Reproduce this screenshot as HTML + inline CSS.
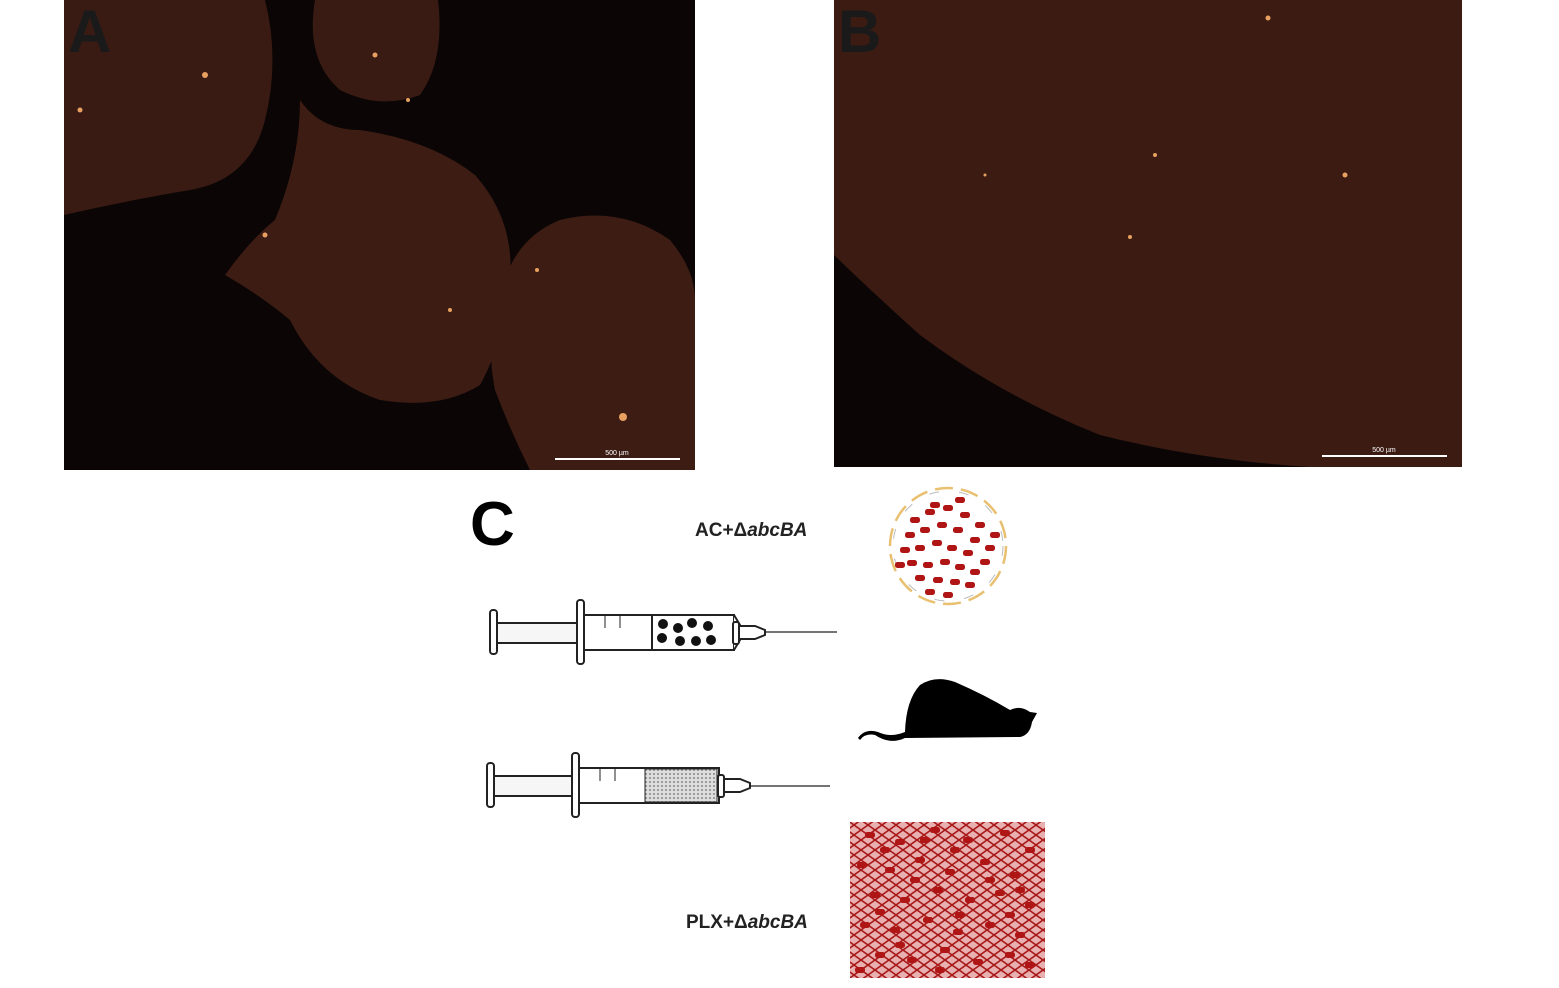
<!DOCTYPE html>
<html><head><meta charset="utf-8"><style>
html,body{margin:0;padding:0;background:#fff;width:1559px;height:988px;overflow:hidden}
svg{display:block}
</style></head><body>
<svg width="1559" height="988" viewBox="0 0 1559 988" xmlns="http://www.w3.org/2000/svg">
<defs>
<pattern id="mesh" width="14" height="10" patternUnits="userSpaceOnUse">
<rect width="14" height="10" fill="#e8b0b0"/>
<path d="M0 5 L7 0 L14 5 L7 10 Z" fill="none" stroke="#a81818" stroke-width="1.6"/>
</pattern>
<pattern id="dots" width="4" height="4" patternUnits="userSpaceOnUse">
<rect width="4" height="4" fill="#ddd"/><circle cx="2" cy="2" r="1" fill="#888"/>
</pattern>
<g id="rod"><rect x="-5" y="-3" width="10" height="6" rx="2.5" fill="#b01515"/></g>
</defs>

<!-- Panel A -->
<rect x="64" y="0" width="631" height="470" fill="#0b0605"/>
<path d="M64 0 L265 0 Q280 60 265 120 Q250 180 190 190 Q130 200 64 215 Z" fill="#3a1b13"/>
<path d="M315 0 L438 0 Q445 60 420 95 Q380 110 340 90 Q305 60 315 0 Z" fill="#3a1b13"/>
<path d="M300 100 Q320 130 360 130 Q430 140 475 175 Q515 220 510 280 Q505 340 480 385 Q440 410 380 400 Q320 380 290 320 Q260 295 225 275 Q250 240 275 220 Q300 160 300 100 Z" fill="#3d1c14"/>
<path d="M500 300 Q510 240 560 220 Q620 205 670 240 Q695 270 695 300 L695 470 L530 470 Q510 430 495 390 Q485 340 500 300 Z" fill="#3d1c14"/>
<g fill="#e8a060">
<circle cx="205" cy="75" r="3"/><circle cx="80" cy="110" r="2.5"/><circle cx="375" cy="55" r="2.5"/>
<circle cx="265" cy="235" r="2.5"/><circle cx="623" cy="417" r="4"/><circle cx="537" cy="270" r="2"/>
<circle cx="450" cy="310" r="2"/><circle cx="408" cy="100" r="2"/>
</g>
<rect x="555" y="458" width="125" height="2" fill="#fff"/>
<text x="617" y="455" font-family="Liberation Sans, sans-serif" font-size="7" fill="#fff" text-anchor="middle">500 µm</text>
<text x="68" y="52" font-family="Liberation Sans, sans-serif" font-size="60" font-weight="bold" fill="#1a1a1a">A</text>

<!-- Panel B -->
<rect x="834" y="0" width="628" height="467" fill="#3c1b13"/>
<path d="M834 255 Q870 290 920 335 Q1000 395 1100 435 Q1200 460 1310 467 L834 467 Z" fill="#0b0605"/>
<g fill="#e8a060">
<circle cx="1268" cy="18" r="2.5"/><circle cx="1155" cy="155" r="2"/><circle cx="1345" cy="175" r="2.5"/>
<circle cx="1130" cy="237" r="2"/><circle cx="985" cy="175" r="1.5"/>
</g>
<rect x="1322" y="455" width="125" height="2" fill="#fff"/>
<text x="1384" y="452" font-family="Liberation Sans, sans-serif" font-size="7" fill="#fff" text-anchor="middle">500 µm</text>
<text x="838" y="52" font-family="Liberation Sans, sans-serif" font-size="60" font-weight="bold" fill="#1a1a1a">B</text>

<!-- Panel C -->
<text x="470" y="545" font-family="Liberation Sans, sans-serif" font-size="62" font-weight="bold" fill="#000">C</text>
<text x="695" y="536" font-family="Liberation Sans, sans-serif" font-size="19" font-weight="bold" fill="#222">AC+Δ<tspan font-style="italic">abcBA</tspan></text>
<text x="686" y="928" font-family="Liberation Sans, sans-serif" font-size="19" font-weight="bold" fill="#222">PLX+Δ<tspan font-style="italic">abcBA</tspan></text>

<!-- dish -->
<circle cx="948" cy="546" r="58" fill="#fff" stroke="#e8c070" stroke-width="2.5" stroke-dasharray="18 8"/>
<circle cx="948" cy="546" r="55" fill="none" stroke="#bbb" stroke-width="1" stroke-dasharray="10 20"/>
<g>
<use href="#rod" x="915" y="520"/><use href="#rod" x="930" y="512"/><use href="#rod" x="948" y="508"/><use href="#rod" x="965" y="515"/>
<use href="#rod" x="980" y="525"/><use href="#rod" x="910" y="535"/><use href="#rod" x="925" y="530"/><use href="#rod" x="942" y="525"/>
<use href="#rod" x="958" y="530"/><use href="#rod" x="975" y="540"/><use href="#rod" x="990" y="548"/><use href="#rod" x="905" y="550"/>
<use href="#rod" x="920" y="548"/><use href="#rod" x="937" y="543"/><use href="#rod" x="952" y="548"/><use href="#rod" x="968" y="553"/>
<use href="#rod" x="985" y="562"/><use href="#rod" x="912" y="563"/><use href="#rod" x="928" y="565"/><use href="#rod" x="945" y="562"/>
<use href="#rod" x="960" y="567"/><use href="#rod" x="975" y="572"/><use href="#rod" x="920" y="578"/><use href="#rod" x="938" y="580"/>
<use href="#rod" x="955" y="582"/><use href="#rod" x="970" y="585"/><use href="#rod" x="948" y="595"/><use href="#rod" x="935" y="505"/>
<use href="#rod" x="960" y="500"/><use href="#rod" x="995" y="535"/><use href="#rod" x="900" y="565"/><use href="#rod" x="930" y="592"/>
</g>

<!-- syringe 1 -->
<g stroke="#222" stroke-width="2" fill="#fff">
<rect x="490" y="610" width="7" height="44" rx="3"/>
<rect x="497" y="623" width="82" height="20" fill="#f6f6f6"/>
<rect x="577" y="600" width="7" height="64" rx="3"/>
<rect x="584" y="615" width="150" height="35"/>
<line x1="652" y1="615" x2="652" y2="650"/>
<path d="M734 615 L740 625 L740 640 L734 650" />
<rect x="733" y="622" width="6" height="22" rx="2"/>
<path d="M739 626 L755 626 L765 630 L765 635 L755 639 L739 639 Z"/>
<line x1="765" y1="632" x2="837" y2="632" stroke-width="1.2"/>
<line x1="605" y1="615" x2="605" y2="628" stroke-width="1"/><line x1="620" y1="615" x2="620" y2="628" stroke-width="1"/>
</g>
<g fill="#111">
<circle cx="663" cy="624" r="5"/><circle cx="678" cy="628" r="5"/><circle cx="692" cy="623" r="5"/><circle cx="708" cy="626" r="5"/>
<circle cx="662" cy="638" r="5"/><circle cx="680" cy="641" r="5"/><circle cx="696" cy="641" r="5"/><circle cx="711" cy="640" r="5"/>
</g>

<!-- syringe 2 -->
<g stroke="#222" stroke-width="2" fill="#fff">
<rect x="487" y="763" width="7" height="44" rx="3"/>
<rect x="494" y="776" width="80" height="20" fill="#f6f6f6"/>
<rect x="572" y="753" width="7" height="64" rx="3"/>
<rect x="579" y="768" width="140" height="35"/>
<rect x="645" y="769" width="72" height="33" fill="url(#dots)" stroke-width="1"/>
<rect x="718" y="775" width="6" height="22" rx="2"/>
<path d="M724 779 L740 779 L750 783 L750 788 L740 792 L724 792 Z"/>
<line x1="750" y1="786" x2="830" y2="786" stroke-width="1.2"/>
<line x1="600" y1="768" x2="600" y2="781" stroke-width="1"/><line x1="615" y1="768" x2="615" y2="781" stroke-width="1"/>
</g>

<!-- mouse -->
<path d="M858 738 Q865 728 878 732 Q890 738 905 732 Q906 700 920 685 Q935 675 955 682 Q985 695 1010 710 Q1020 705 1030 712 L1037 713 L1032 722 Q1030 735 1020 737 L905 738 Q890 745 875 735 Q865 733 860 740 Z" fill="#000"/>

<!-- mesh -->
<rect x="850" y="822" width="195" height="156" fill="url(#mesh)"/>
<g>
<use href="#rod" x="870" y="835"/><use href="#rod" x="900" y="842"/><use href="#rod" x="935" y="830"/><use href="#rod" x="968" y="840"/><use href="#rod" x="1005" y="833"/><use href="#rod" x="1030" y="850"/>
<use href="#rod" x="862" y="865"/><use href="#rod" x="890" y="870"/><use href="#rod" x="920" y="860"/><use href="#rod" x="950" y="872"/><use href="#rod" x="985" y="862"/><use href="#rod" x="1015" y="875"/>
<use href="#rod" x="875" y="895"/><use href="#rod" x="905" y="900"/><use href="#rod" x="938" y="890"/><use href="#rod" x="970" y="900"/><use href="#rod" x="1000" y="893"/><use href="#rod" x="1030" y="905"/>
<use href="#rod" x="865" y="925"/><use href="#rod" x="895" y="930"/><use href="#rod" x="928" y="920"/><use href="#rod" x="958" y="932"/><use href="#rod" x="990" y="925"/><use href="#rod" x="1020" y="935"/>
<use href="#rod" x="880" y="955"/><use href="#rod" x="912" y="960"/><use href="#rod" x="945" y="950"/><use href="#rod" x="978" y="962"/><use href="#rod" x="1010" y="955"/><use href="#rod" x="940" y="970"/>
<use href="#rod" x="885" y="850"/><use href="#rod" x="955" y="850"/><use href="#rod" x="915" y="880"/><use href="#rod" x="990" y="880"/><use href="#rod" x="880" y="912"/><use href="#rod" x="1010" y="915"/>
<use href="#rod" x="925" y="840"/><use href="#rod" x="1020" y="890"/><use href="#rod" x="960" y="915"/><use href="#rod" x="900" y="945"/><use href="#rod" x="1030" y="965"/><use href="#rod" x="860" y="970"/>
</g>
</svg>
</body></html>
